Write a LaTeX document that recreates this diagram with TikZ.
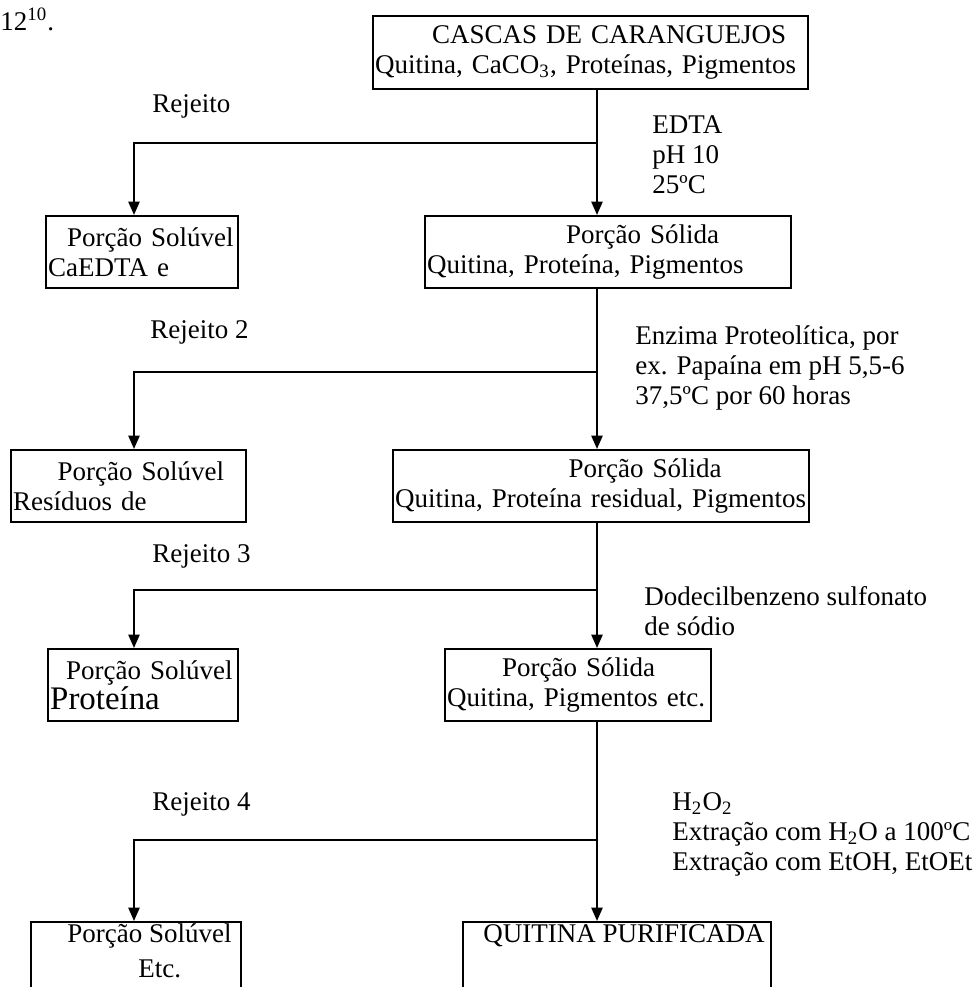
\documentclass[tikz,border=0pt]{standalone}
\usepackage{fontspec}
\setmainfont{Liberation Serif}
\usetikzlibrary{positioning,arrows.meta}
\tikzset{
  flowarrow/.style={-{Triangle[length=6pt,width=5pt]}, line width=0.9pt},
  procbox/.style={draw, line width=0.9pt, anchor=north west, inner sep=1pt, align=left},
  sidetext/.style={anchor=north west, inner sep=0pt, align=left},
  rejlabel/.style={anchor=base west, inner sep=0pt}
}

\begin{document}
\begin{tikzpicture}[x=0.45pt, y=-0.45pt, font=\fontsize{12.15}{13.5}\selectfont]
  \useasboundingbox (0,0) rectangle (973,987);
  \clip (0,0) rectangle (973,987);
  \coordinate (trunk) at (597,0);
  \coordinate (lft) at (134,0);

  \node[rejlabel] (refnum) at (0,30) {12\textsuperscript{10}.};

  % main column
  \node[procbox, minimum width=195.75pt, minimum height=32.85pt, text width=193.75pt] (cascas) at (372,15)
    {\hspace*{25.6pt}CASCAS DE CARANGUEJOS\\\mbox{Quitina, CaCO\textsubscript{3}, Proteínas, Pigmentos}};
  \node[procbox, minimum width=164.7pt, minimum height=32.4pt, text width=162.7pt] (solida1) at (424,215)
    {\hspace*{62.5pt}Porção Sólida\\Quitina, Proteína, Pigmentos};
  \node[procbox, minimum width=187.2pt, minimum height=32.4pt, text width=185.2pt] (solida2) at (392,449)
    {\hspace*{78pt}Porção Sólida\\\mbox{Quitina, Proteína residual, Pigmentos}};
  \node[procbox, minimum width=119.7pt, minimum height=32.4pt, text width=117.7pt] (solida3) at (444,648)
    {\hspace*{24.7pt}Porção Sólida\\\mbox{Quitina, Pigmentos etc.}};
  \node[procbox, minimum width=138.6pt, minimum height=49pt] (quitina) at (462,921) {};
  \node[rejlabel] (quitinatxt) at (483,942) {QUITINA PURIFICADA};

  % side column
  \node[procbox, minimum width=86.4pt, minimum height=32.4pt, text width=84.4pt] (soluvel1) at (45,215)
    {\hspace*{8.5pt}Porção Solúvel\\CaEDTA e};
  \node[procbox, minimum width=105.75pt, minimum height=32.4pt, text width=103.75pt] (soluvel2) at (10,449)
    {\hspace*{20pt}Porção Solúvel\\Resíduos de};
  \node[procbox, minimum width=85.5pt, minimum height=32.4pt, text width=83.5pt] (soluvel3) at (47,648)
    {\hspace*{7.2pt}\mbox{Porção Solúvel}\\{\fontsize{14.8}{13.5}\selectfont Proteína}};
  \node[procbox, minimum width=94.5pt, minimum height=49pt] (soluvel4) at (30,921) {};
  \node[rejlabel] (soluvel4txt) at (67,942) {Porção Solúvel};
  \node[rejlabel] (etc) at (138,977) {Etc.};

  % conditions
  \node[sidetext] (edta) at (652,115) {EDTA\\pH 10\\25ºC};
  \node[sidetext] (enzima) at (635,325)
    {Enzima Proteolítica, por\\ex. Papaína em pH 5,5-6\\37,5ºC por 60 horas};
  \node[sidetext] (dodecil) at (644,586) {Dodecilbenzeno sulfonato\\de sódio};
  \node[sidetext] (peroxido) at (672,792)
    {H\textsubscript{2}O\textsubscript{2}\\Extração com H\textsubscript{2}O a 100ºC\\Extração com EtOH, EtOEt};

  \node[rejlabel] (rej1) at (152,112) {Rejeito};
  \node[rejlabel] (rej2) at (150,338) {Rejeito 2};
  \node[rejlabel] (rej3) at (152,562) {Rejeito 3};
  \node[rejlabel] (rej4) at (152,810) {Rejeito 4};

  \coordinate (j1) at (597,143);
  \coordinate (j2) at (597,372);
  \coordinate (j3) at (597,590);
  \coordinate (j4) at (597,840);

  \draw[flowarrow] (cascas.south -| trunk) -- (solida1.north -| trunk);
  \draw[flowarrow] (solida1.south -| trunk) -- (solida2.north -| trunk);
  \draw[flowarrow] (solida2.south -| trunk) -- (solida3.north -| trunk);
  \draw[flowarrow] (solida3.south -| trunk) -- (quitina.north -| trunk);
  \draw[flowarrow] (j1) -| (soluvel1.north -| lft);
  \draw[flowarrow] (j2) -| (soluvel2.north -| lft);
  \draw[flowarrow] (j3) -| (soluvel3.north -| lft);
  \draw[flowarrow] (j4) -| (soluvel4.north -| lft);
\end{tikzpicture}
\end{document}
